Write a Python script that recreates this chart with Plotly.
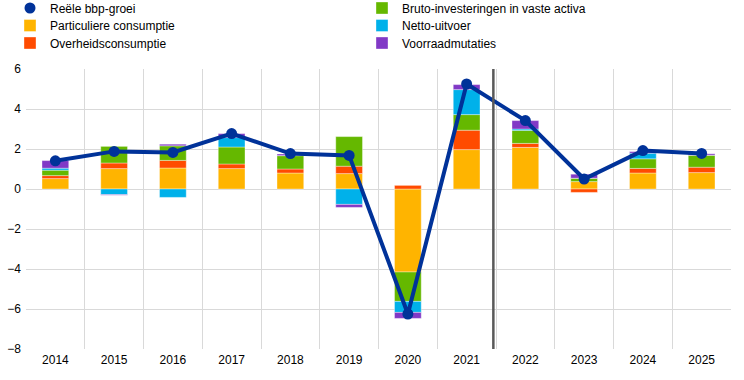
import plotly.graph_objects as go

years = ["2014", "2015", "2016", "2017", "2018", "2019", "2020", "2021", "2022", "2023", "2024", "2025"]
gdp = [1.41, 1.88, 1.83, 2.77, 1.77, 1.68, -6.25, 5.25, 3.42, 0.50, 1.92, 1.78]
particuliere = [0.52, 1.02, 1.05, 1.02, 0.80, 0.77, -4.15, 1.97, 2.08, 0.37, 0.80, 0.82]
overheid = [0.15, 0.28, 0.38, 0.23, 0.20, 0.37, 0.18, 0.97, 0.20, -0.17, 0.23, 0.27]
bruto = [0.27, 0.83, 0.73, 0.85, 0.67, 1.48, -1.47, 0.78, 0.65, 0.17, 0.48, 0.60]
netto = [0.10, -0.28, -0.42, 0.47, 0.00, -0.77, -0.55, 1.25, 0.07, 0.00, 0.28, 0.00]
voorraad = [0.38, -0.03, 0.08, 0.20, 0.08, -0.15, -0.30, 0.25, 0.42, 0.20, 0.08, 0.07]

names = {
    "gdp": "Reële bbp-groei",
    "part": "Particuliere consumptie",
    "over": "Overheidsconsumptie",
    "bruto": "Bruto-investeringen in vaste activa",
    "netto": "Netto-uitvoer",
    "voor": "Voorraadmutaties",
}

colors = {
    "gdp": "#003299",
    "part": "#FFB400",
    "over": "#FF4B00",
    "bruto": "#65B800",
    "netto": "#00B1EA",
    "voor": "#8139C6",
}

W, H = 744, 380

# legend slot for each series: (legend id, left x px, row centre y px)
legend_slots = {
    "gdp": ("legend", 10, 8),
    "part": ("legend2", 10, 25.5),
    "over": ("legend3", 10, 43),
    "bruto": ("legend4", 362, 8),
    "netto": ("legend5", 362, 25.5),
    "voor": ("legend6", 362, 43),
}

fig = go.Figure()

bar_series = [
    ("part", particuliere),
    ("over", overheid),
    ("bruto", bruto),
    ("netto", netto),
    ("voor", voorraad),
]
for key, vals in bar_series:
    fig.add_trace(go.Bar(
        x=years, y=vals, name=names[key],
        marker=dict(color=colors[key], line=dict(width=0.6, color="rgba(255,255,255,0.6)")),
        legend=legend_slots[key][0],
    ))

fig.add_trace(go.Scatter(
    x=years, y=gdp, name=names["gdp"], mode="lines+markers",
    line=dict(color=colors["gdp"], width=4),
    marker=dict(color=colors["gdp"], size=11),
    showlegend=False,
))
# legend-only entry showing just the dot
fig.add_trace(go.Scatter(
    x=[None], y=[None], name=names["gdp"], mode="markers",
    marker=dict(color=colors["gdp"], size=11),
    legend="legend",
))

fig.add_shape(type="line", xref="x", yref="paper", x0=7.455, x1=7.455, y0=0, y1=1,
              line=dict(color="#595959", width=2.5))

legend_layouts = {}
for key, (lid, xpx, ypx) in legend_slots.items():
    legend_layouts[lid] = dict(
        xref="container", yref="container",
        x=xpx / W, y=1 - ypx / H, xanchor="left", yanchor="middle",
        font=dict(size=12, color="#000000"),
        bgcolor="rgba(0,0,0,0)",
        borderwidth=0,
    )

fig.update_layout(
    width=W, height=H,
    margin=dict(l=26, r=13, t=69, b=31, autoexpand=False),
    barmode="relative",
    bargap=0.545,
    plot_bgcolor="white",
    paper_bgcolor="white",
    font=dict(family="Liberation Sans, Arial, sans-serif", size=12, color="#000000"),
    xaxis=dict(
        type="category",
        range=[-0.5, len(years) - 0.5],
        tickson="boundaries",
        showgrid=True, gridcolor="#d9d9d9", gridwidth=1,
        ticks="", showline=False, zeroline=False,
        tickfont=dict(size=12),
        ticklabelstandoff=2,
        automargin=False,
    ),
    yaxis=dict(
        range=[-8, 6], dtick=2,
        showgrid=True, gridcolor="#d9d9d9", gridwidth=1,
        zeroline=False, showline=False, ticks="",
        tickfont=dict(size=12),
        ticklabelstandoff=4,
        automargin=False,
    ),
    **legend_layouts,
)

fig.write_html(
    "out.html",
    config={"displayModeBar": False},
    post_script="document.body.style.margin='0';document.body.style.padding='0';",
)
